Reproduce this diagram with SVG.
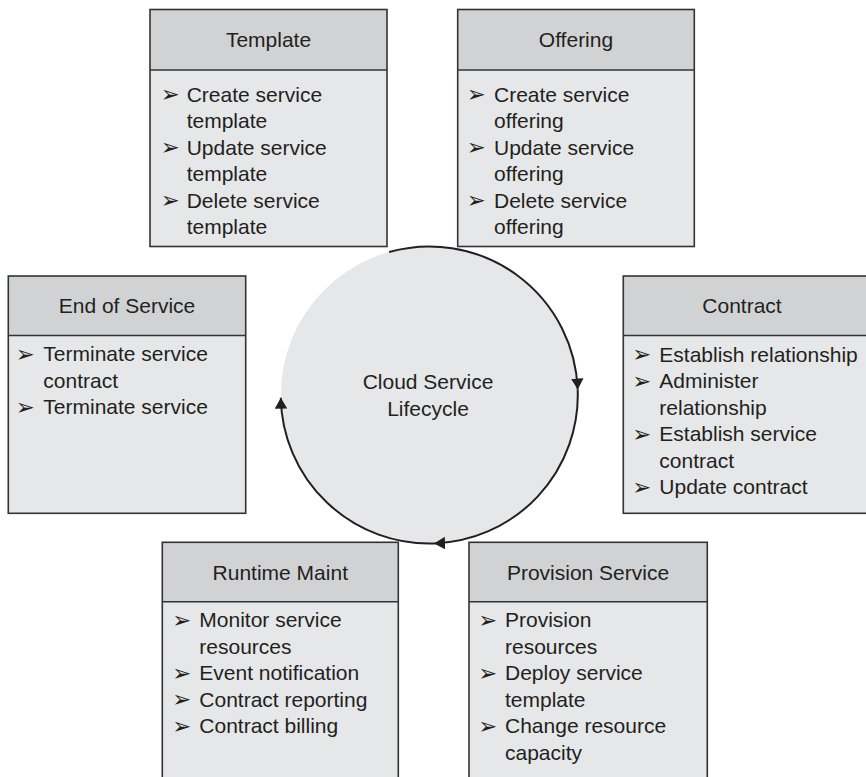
<svg xmlns="http://www.w3.org/2000/svg" width="866" height="777" viewBox="0 0 866 777">
<style>
.bg{fill:#ffffff}
.hdr{fill:#d1d2d4;stroke:none}
.body{fill:#e6e7e8;stroke:none}
.frame{fill:none;stroke:#333333;stroke-width:1.6}
.div{stroke:#333333;stroke-width:1.6}
.t{font-family:"Liberation Sans",Arial,sans-serif;font-size:21px;fill:#231f20}
.ttl{text-anchor:middle}
.b{font-family:"DejaVu Sans",sans-serif;font-size:23px;fill:#231f20}
.arc{fill:none;stroke:#231f20;stroke-width:2}
</style>
<defs>
<marker id="ah" markerUnits="userSpaceOnUse" markerWidth="12" markerHeight="13" refX="11" refY="6.25" orient="auto">
<path d="M0,0 L11,6.25 L0,12.5 z" fill="#231f20"/>
</marker>
</defs>
<rect class="bg" x="0" y="0" width="866" height="777"/>

<g id="lifecycle">
<circle cx="429.3" cy="395" r="148.5" fill="#e6e7e8"/>
<text class="t ttl" x="428" y="389">Cloud Service</text>
<text class="t ttl" x="428" y="415.5">Lifecycle</text>
</g>

<g id="connectors">
<path class="arc" d="M389.1,252 A148.5,148.5 0 0 1 577.7,389.5" marker-end="url(#ah)"/>
<path class="arc" d="M577.7,389.5 A148.5,148.5 0 0 1 434,543.4" marker-end="url(#ah)"/>
<path class="arc" d="M434,543.4 A148.5,148.5 0 0 1 280.8,397.7" marker-end="url(#ah)"/>
</g>

<g id="template">
<rect class="body" x="150" y="9.5" width="237" height="237"/>
<rect class="hdr" x="150" y="9.5" width="237" height="60.5"/>
<line class="div" x1="150" y1="70" x2="387" y2="70"/>
<rect class="frame" x="150" y="9.5" width="237" height="237"/>
<text class="t ttl" x="268.5" y="47">Template</text>
<text class="b" x="160.7" y="102" textLength="19" lengthAdjust="spacingAndGlyphs">➢</text>
<text class="t" x="186.7" y="101.5">Create service</text>
<text class="t" x="186.7" y="128">template</text>
<text class="b" x="160.7" y="155" textLength="19" lengthAdjust="spacingAndGlyphs">➢</text>
<text class="t" x="186.7" y="154.5">Update service</text>
<text class="t" x="186.7" y="181">template</text>
<text class="b" x="160.7" y="208" textLength="19" lengthAdjust="spacingAndGlyphs">➢</text>
<text class="t" x="186.7" y="207.5">Delete service</text>
<text class="t" x="186.7" y="234">template</text>
</g>

<g id="offering">
<rect class="body" x="457.7" y="9.5" width="236.6" height="237"/>
<rect class="hdr" x="457.7" y="9.5" width="236.6" height="60.5"/>
<line class="div" x1="457.7" y1="70" x2="694.3" y2="70"/>
<rect class="frame" x="457.7" y="9.5" width="236.6" height="237"/>
<text class="t ttl" x="576" y="47">Offering</text>
<text class="b" x="466.7" y="102" textLength="19" lengthAdjust="spacingAndGlyphs">➢</text>
<text class="t" x="494" y="101.5">Create service</text>
<text class="t" x="494" y="128">offering</text>
<text class="b" x="466.7" y="155" textLength="19" lengthAdjust="spacingAndGlyphs">➢</text>
<text class="t" x="494" y="154.5">Update service</text>
<text class="t" x="494" y="181">offering</text>
<text class="b" x="466.7" y="208" textLength="19" lengthAdjust="spacingAndGlyphs">➢</text>
<text class="t" x="494" y="207.5">Delete service</text>
<text class="t" x="494" y="234">offering</text>
</g>

<g id="end-of-service">
<rect class="body" x="8.3" y="276" width="237.4" height="237.3"/>
<rect class="hdr" x="8.3" y="276" width="237.4" height="59.5"/>
<line class="div" x1="8.3" y1="335.5" x2="245.7" y2="335.5"/>
<rect class="frame" x="8.3" y="276" width="237.4" height="237.3"/>
<text class="t ttl" x="127" y="313">End of Service</text>
<text class="b" x="15.7" y="361.5" textLength="19" lengthAdjust="spacingAndGlyphs">➢</text>
<text class="t" x="43.3" y="361">Terminate service</text>
<text class="t" x="43.3" y="387.5">contract</text>
<text class="b" x="15.7" y="414.5" textLength="19" lengthAdjust="spacingAndGlyphs">➢</text>
<text class="t" x="43.3" y="414">Terminate service</text>
</g>

<g id="contract">
<rect class="body" x="623.3" y="276" width="260" height="237.3"/>
<rect class="hdr" x="623.3" y="276" width="260" height="59.5"/>
<line class="div" x1="623.3" y1="335.5" x2="883.3" y2="335.5"/>
<rect class="frame" x="623.3" y="276" width="260" height="237.3"/>
<text class="t ttl" x="742" y="313">Contract</text>
<text class="b" x="632.3" y="362" textLength="19" lengthAdjust="spacingAndGlyphs">➢</text>
<text class="t" x="659.3" y="361.5">Establish relationship</text>
<text class="b" x="632.3" y="388.5" textLength="19" lengthAdjust="spacingAndGlyphs">➢</text>
<text class="t" x="659.3" y="388">Administer</text>
<text class="t" x="659.3" y="414.5">relationship</text>
<text class="b" x="632.3" y="441.5" textLength="19" lengthAdjust="spacingAndGlyphs">➢</text>
<text class="t" x="659.3" y="441">Establish service</text>
<text class="t" x="659.3" y="467.5">contract</text>
<text class="b" x="632.3" y="494.5" textLength="19" lengthAdjust="spacingAndGlyphs">➢</text>
<text class="t" x="659.3" y="494">Update contract</text>
</g>

<g id="runtime-maint">
<rect class="body" x="162.3" y="542.3" width="236" height="260"/>
<rect class="hdr" x="162.3" y="542.3" width="236" height="59.4"/>
<line class="div" x1="162.3" y1="601.7" x2="398.3" y2="601.7"/>
<rect class="frame" x="162.3" y="542.3" width="236" height="260"/>
<text class="t ttl" x="280.3" y="579.5">Runtime Maint</text>
<text class="b" x="172.3" y="627.5" textLength="19" lengthAdjust="spacingAndGlyphs">➢</text>
<text class="t" x="199.3" y="627">Monitor service</text>
<text class="t" x="199.3" y="653.5">resources</text>
<text class="b" x="172.3" y="680.5" textLength="19" lengthAdjust="spacingAndGlyphs">➢</text>
<text class="t" x="199.3" y="680">Event notification</text>
<text class="b" x="172.3" y="707" textLength="19" lengthAdjust="spacingAndGlyphs">➢</text>
<text class="t" x="199.3" y="706.5">Contract reporting</text>
<text class="b" x="172.3" y="733.5" textLength="19" lengthAdjust="spacingAndGlyphs">➢</text>
<text class="t" x="199.3" y="733">Contract billing</text>
</g>

<g id="provision-service">
<rect class="body" x="469" y="542.3" width="238.3" height="260"/>
<rect class="hdr" x="469" y="542.3" width="238.3" height="59.4"/>
<line class="div" x1="469" y1="601.7" x2="707.3" y2="601.7"/>
<rect class="frame" x="469" y="542.3" width="238.3" height="260"/>
<text class="t ttl" x="588" y="579.5">Provision Service</text>
<text class="b" x="478.3" y="627.5" textLength="19" lengthAdjust="spacingAndGlyphs">➢</text>
<text class="t" x="505" y="627">Provision</text>
<text class="t" x="505" y="653.5">resources</text>
<text class="b" x="478.3" y="680.5" textLength="19" lengthAdjust="spacingAndGlyphs">➢</text>
<text class="t" x="505" y="680">Deploy service</text>
<text class="t" x="505" y="706.5">template</text>
<text class="b" x="478.3" y="733.5" textLength="19" lengthAdjust="spacingAndGlyphs">➢</text>
<text class="t" x="505" y="733">Change resource</text>
<text class="t" x="505" y="759.5">capacity</text>
</g>
</svg>
